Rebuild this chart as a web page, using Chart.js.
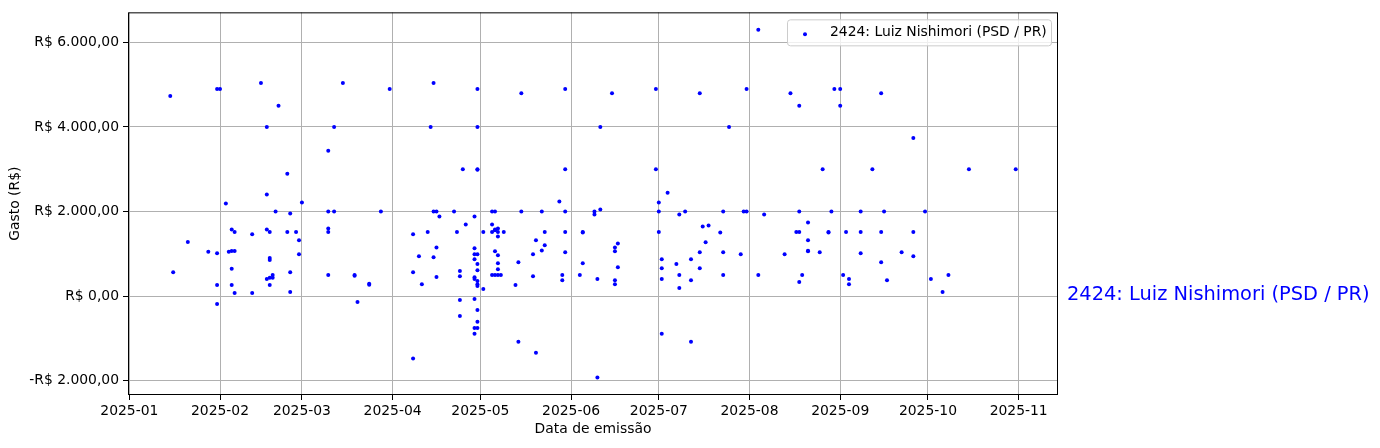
<!DOCTYPE html>
<html>
<head>
<meta charset="utf-8">
<script src="https://cdn.jsdelivr.net/npm/chart.js@4.4.1/dist/chart.umd.min.js"></script>
<style>
  body { margin: 0; background: #fff; }
  #wrap { width: 1380px; height: 448px; }
</style>
</head>
<body>
<div id="wrap"><canvas id="grafico" width="1380" height="448"></canvas></div>
<script>
// Dati: data di emissione e importo (R$)
const seriesName = '2424: Luiz Nishimori (PSD / PR)';

const dates = [
  '2025-01-15','2025-01-16','2025-01-21','2025-01-28','2025-01-31','2025-01-31','2025-01-31','2025-01-31',
  '2025-02-01','2025-02-03','2025-02-04','2025-02-05','2025-02-05','2025-02-05','2025-02-05','2025-02-06','2025-02-06','2025-02-06',
  '2025-02-12','2025-02-12','2025-02-15','2025-02-17','2025-02-17','2025-02-17','2025-02-17','2025-02-18','2025-02-18','2025-02-18',
  '2025-02-18','2025-02-18','2025-02-19','2025-02-19','2025-02-20','2025-02-21','2025-02-24','2025-02-24','2025-02-25','2025-02-25',
  '2025-02-25','2025-02-27','2025-02-28','2025-02-28',
  '2025-03-01','2025-03-10','2025-03-10','2025-03-10','2025-03-10','2025-03-10','2025-03-12','2025-03-12','2025-03-15','2025-03-19',
  '2025-03-19','2025-03-20','2025-03-24','2025-03-24','2025-03-28','2025-03-31',
  '2025-04-08','2025-04-08','2025-04-08','2025-04-10','2025-04-11','2025-04-13','2025-04-14','2025-04-15','2025-04-15','2025-04-15',
  '2025-04-16','2025-04-16','2025-04-16','2025-04-17','2025-04-22','2025-04-23','2025-04-24','2025-04-24','2025-04-24','2025-04-24',
  '2025-04-25','2025-04-26','2025-04-29','2025-04-29','2025-04-29','2025-04-29','2025-04-29','2025-04-29','2025-04-29','2025-04-29',
  '2025-04-29','2025-04-30','2025-04-30','2025-04-30','2025-04-30','2025-04-30','2025-04-30','2025-04-30','2025-04-30','2025-04-30',
  '2025-04-30','2025-04-30','2025-04-30','2025-04-30',
  '2025-05-02','2025-05-02','2025-05-05','2025-05-05','2025-05-05','2025-05-05','2025-05-06','2025-05-06','2025-05-06','2025-05-06',
  '2025-05-06','2025-05-07','2025-05-07','2025-05-07','2025-05-07','2025-05-07','2025-05-07','2025-05-07','2025-05-08','2025-05-09',
  '2025-05-13','2025-05-14','2025-05-14','2025-05-15','2025-05-15','2025-05-19','2025-05-19','2025-05-20','2025-05-20','2025-05-22',
  '2025-05-22','2025-05-23','2025-05-23','2025-05-28','2025-05-29','2025-05-29','2025-05-30','2025-05-30','2025-05-30','2025-05-30',
  '2025-05-30',
  '2025-06-04','2025-06-05','2025-06-05','2025-06-05','2025-06-09','2025-06-09','2025-06-10','2025-06-10','2025-06-11','2025-06-11',
  '2025-06-15','2025-06-16','2025-06-16','2025-06-16','2025-06-16','2025-06-17','2025-06-17','2025-06-30','2025-06-30',
  '2025-07-01','2025-07-01','2025-07-01','2025-07-02','2025-07-02','2025-07-02','2025-07-02','2025-07-04','2025-07-07','2025-07-08',
  '2025-07-08','2025-07-08','2025-07-10','2025-07-12','2025-07-12','2025-07-12','2025-07-15','2025-07-15','2025-07-15','2025-07-16',
  '2025-07-17','2025-07-18','2025-07-22','2025-07-23','2025-07-23','2025-07-23','2025-07-25','2025-07-29','2025-07-30','2025-07-31',
  '2025-07-31',
  '2025-08-04','2025-08-04','2025-08-06','2025-08-13','2025-08-15','2025-08-17','2025-08-18','2025-08-18','2025-08-18','2025-08-18',
  '2025-08-19','2025-08-21','2025-08-21','2025-08-21','2025-08-21','2025-08-25','2025-08-26','2025-08-28','2025-08-28','2025-08-29',
  '2025-08-30',
  '2025-09-01','2025-09-01','2025-09-02','2025-09-03','2025-09-04','2025-09-04','2025-09-08','2025-09-08','2025-09-08','2025-09-12',
  '2025-09-15','2025-09-15','2025-09-15','2025-09-16','2025-09-17','2025-09-22','2025-09-26','2025-09-26','2025-09-26','2025-09-30',
  '2025-10-02','2025-10-06','2025-10-08','2025-10-15','2025-10-31'
];

const amounts = [
  4730, 565, 1280, 1045, 1010, 4900, 260, -190,
  4900, 2190, 1045, 1065, 1575, 645, 260, 1065, 1515, 70,
  1460, 70, 5040, 4000, 2400, 1575, 400, 1515, 900, 855,
  430, 260, 495, 430, 2000, 4500, 2895, 1515, 1955, 565,
  95, 1515, 1320, 990,
  2210, 3435, 2000, 1600, 1515, 495, 2000, 4000, 5040, 480,
  500, -140, 265, 290, 2000, 4900,
  1460, 565, -1480, 940, 280, 1515, 4000, 5040, 2000, 920,
  2000, 450, 1150, 1880, 2000, 1515, 590, 470, -95, -470,
  3000, 1695, 1880, 1130, 990, 870, 445, 400, -70, -755,
  -895, 4900, 4000, 3000, 2990, 990, 755, 610, 355, 280,
  235, -330, -610, -755,
  165, 1515, 1695, 2000, 1515, 495, 2000, 1555, 1575, 1060,
  495, 1600, 1410, 1515, 965, 775, 635, 495, 495, 1515,
  260, 800, -1080, 4800, 2000, 990, 470, 1320, -1340, 2000,
  1080, 1515, 1200, 2235, 495, 375, 4900, 3000, 2000, 1515,
  1035,
  495, 1515, 1500, 775, 2000, 1930, 400, -1930, 2045, 4000,
  4800, 1060, 1150, 375, 280, 1245, 680, 4900, 3000,
  2210, 2000, 1515, 870, 660, 400, -895, 2445, 755, 1930,
  495, 190, 2000, 870, 375, -1080, 4800, 1035, 660, 1645,
  1270, 1670, 1505, 2000, 1035, 495, 4000, 990, 2000, 2000,
  4900,
  6300, 495, 1930, 990, 4800, 1515, 4500, 2000, 1515, 330,
  495, 1740, 1320, 1060, 1070, 1035, 3000, 1515, 1500, 2000,
  4900,
  4900, 4500, 495, 1515, 400, 280, 2000, 1515, 1010, 3000,
  4800, 1515, 800, 2000, 375, 1035, 3740, 1515, 940, 2000,
  400, 95, 495, 3000, 3000
];

const xTickLabels = ['2025-01','2025-02','2025-03','2025-04','2025-05','2025-06',
                     '2025-07','2025-08','2025-09','2025-10','2025-11'];
const yTickValues = [-2000, 0, 2000, 4000, 6000];
const yTickLabels = ['-R$ 2.000,00', 'R$ 0,00', 'R$ 2.000,00', 'R$ 4.000,00', 'R$ 6.000,00'];

const FONT = '"DejaVu Sans", "Liberation Sans", sans-serif';

function toMs(s) {
    return Date.parse(s + 'T00:00:00Z');
}

// Margini del 5% come nel grafico originale
const xs = dates.map(toMs);
const xMin0 = Math.min(...xs), xMax0 = Math.max(...xs);
const xPad = (xMax0 - xMin0) * 0.05;
const yMin0 = Math.min(...amounts), yMax0 = Math.max(...amounts);
const yPad = (yMax0 - yMin0) * 0.05;

const points = xs.map((x, i) => ({ x: x, y: amounts[i] }));

// Cornice, legenda interna ed etichetta a destra
const extras = {
    id: 'extras',
    afterDraw(chart) {
        const { ctx, chartArea: a } = chart;
        const y = chart.scales.y;
        ctx.save();

        ctx.strokeStyle = '#000';
        ctx.lineWidth = 1;
        ctx.strokeRect(a.left + 0.5, a.top + 0.5, a.width - 1, a.height - 1);

        // legenda
        const lx = a.right - 271, ly = a.top + 7, lw = 264, lh = 26;
        ctx.fillStyle = 'rgba(255,255,255,0.8)';
        ctx.strokeStyle = '#cccccc';
        ctx.beginPath();
        ctx.roundRect(lx + 0.5, ly + 0.5, lw, lh, 3);
        ctx.fill();
        ctx.stroke();
        ctx.fillStyle = 'blue';
        ctx.beginPath();
        ctx.arc(lx + 18, ly + 15, 2, 0, Math.PI * 2);
        ctx.fill();
        ctx.fillStyle = '#000';
        ctx.font = '13.9px ' + FONT;
        ctx.textBaseline = 'middle';
        ctx.textAlign = 'left';
        ctx.fillText(seriesName, lx + 43, ly + 13);

        // testo blu all'altezza di zero
        ctx.fillStyle = 'blue';
        ctx.font = '19.4px ' + FONT;
        ctx.fillText(seriesName, a.right + 9, y.getPixelForValue(0) - 1);
        ctx.restore();
    }
};

const ctx = document.getElementById('grafico').getContext('2d');
new Chart(ctx, {
    type: 'scatter',
    data: {
        datasets: [{
            label: seriesName,
            data: points,
            pointRadius: 2,
            pointHoverRadius: 2,
            pointBackgroundColor: 'blue',
            pointBorderWidth: 0
        }]
    },
    options: {
        responsive: false,
        animation: false,
        devicePixelRatio: 1,
        layout: { padding: { top: 10, right: 322, left: 0, bottom: 0 } },
        plugins: {
            legend: { display: false },
            tooltip: { enabled: false }
        },
        scales: {
            x: {
                type: 'linear',
                z: 1,
                min: xMin0 - xPad,
                max: xMax0 + xPad,
                afterBuildTicks: s => { s.ticks = xTickLabels.map(l => ({ value: toMs(l + '-01') })); },
                afterFit: s => { s.height = 53; },
                border: { display: false },
                grid: { color: '#b0b0b0', lineWidth: 1, tickColor: '#000', tickLength: 5 },
                ticks: {
                    autoSkip: false, maxRotation: 0, padding: 3,
                    color: '#000', font: { family: FONT, size: 13.9 },
                    callback: (v, i) => xTickLabels[i]
                },
                title: {
                    display: true, text: 'Data de emissão', color: '#000',
                    font: { family: FONT, size: 13.9 }, padding: { top: 0, bottom: 10 }
                }
            },
            y: {
                z: 1,
                min: yMin0 - yPad,
                max: yMax0 + yPad,
                afterBuildTicks: s => { s.ticks = yTickValues.map(v => ({ value: v })); },
                afterFit: s => { s.width = 128; },
                border: { display: false },
                grid: { color: '#b0b0b0', lineWidth: 1, tickColor: '#000', tickLength: 5 },
                ticks: {
                    padding: 4, color: '#000', font: { family: FONT, size: 13.9 },
                    callback: (v, i) => yTickLabels[i]
                },
                title: {
                    display: true, text: 'Gasto (R$)', color: '#000',
                    font: { family: FONT, size: 13.9 }, padding: { top: 7, bottom: 0 }
                }
            }
        }
    },
    plugins: [extras]
});
</script>
</body>
</html>
